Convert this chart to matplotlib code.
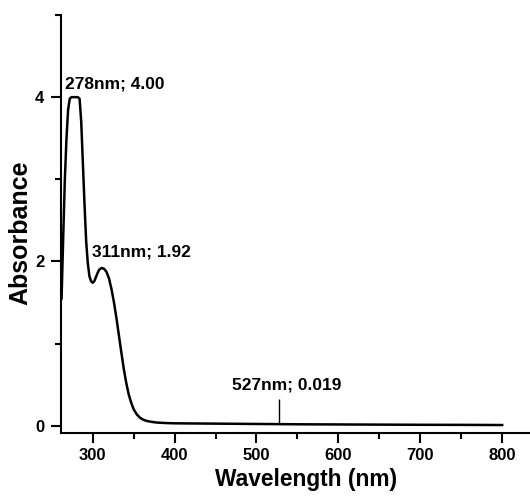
import matplotlib
matplotlib.use("Agg")
import matplotlib.pyplot as plt
from matplotlib.ticker import MultipleLocator

plt.rcParams['font.family'] = ['Liberation Sans', 'DejaVu Sans']
plt.rcParams['font.weight'] = 'bold'

# UV-Vis spectrum
wavelength = [262, 264, 266, 268, 270, 272, 274, 278, 282, 284, 286, 288, 290,
              292, 294, 296, 298, 300, 302, 304, 306, 308, 311, 314, 317, 320,
              323, 326, 329, 332, 335, 338, 341, 344, 347, 350, 354, 358, 362,
              366, 370, 375, 380, 390, 400, 450, 500, 527, 550, 600, 650, 700,
              750, 800]
absorbance = [1.55, 2.3, 3.0, 3.5, 3.85, 3.98, 4.0, 4.0, 4.0, 3.98, 3.7, 3.2,
              2.7, 2.25, 1.98, 1.82, 1.76, 1.74, 1.76, 1.81, 1.86, 1.9, 1.92,
              1.91, 1.87, 1.79, 1.66, 1.50, 1.31, 1.10, 0.89, 0.69, 0.52, 0.38,
              0.28, 0.20, 0.135, 0.095, 0.072, 0.058, 0.05, 0.042, 0.037, 0.032,
              0.029, 0.025, 0.021, 0.019, 0.017, 0.015, 0.013, 0.011, 0.01,
              0.008]

# peak labels: (text, x, y of text baseline)
peak_labels = [("278nm; 4.00", 266, 4.11),
               ("311nm; 1.92", 299.5, 2.06),
               ("527nm; 0.019", 470.5, 0.435)]
marker_x = 527
marker_y = (0.019, 0.32)

fig = plt.figure(figsize=(5.3, 5.01), dpi=100)
ax = fig.add_axes([61 / 530, 1 - 433 / 501, 469 / 530, 418 / 501])

ax.plot(wavelength, absorbance, color='black', lw=1.8, solid_joinstyle='round')
ax.vlines(marker_x, marker_y[0], marker_y[1], color='black', lw=1.0)

for txt, x, y in peak_labels:
    ax.text(x, y, txt, fontsize=12.5, fontweight='bold', ha='left', va='baseline')

ax.set_xlim(261.3, 834)
ax.set_ylim(-0.089, 5.0)

ax.spines['top'].set_visible(False)
ax.spines['right'].set_visible(False)
for s in ('left', 'bottom'):
    ax.spines[s].set_linewidth(1.5)

ax.xaxis.set_major_locator(MultipleLocator(100))
ax.xaxis.set_minor_locator(MultipleLocator(50))
ax.yaxis.set_major_locator(MultipleLocator(2))
ax.yaxis.set_minor_locator(MultipleLocator(1))
ax.set_xticks([300, 400, 500, 600, 700, 800])
ax.tick_params(which='major', direction='out', length=7, width=1.5,
               labelsize=12, pad=4)
ax.tick_params(which='minor', direction='out', length=4.5, width=1.5)
ax.tick_params(axis='y', which='major', pad=5)
for lab in ax.get_xticklabels() + ax.get_yticklabels():
    lab.set_fontweight('bold')

ax.set_xlabel('Wavelength (nm)', fontsize=16.4, fontweight='bold')
ax.set_ylabel('Absorbance', fontsize=18, fontweight='bold')
ax.xaxis.set_label_coords(0.522, -0.083)
ax.yaxis.set_label_coords(-0.06, 0.48)

fig.savefig('out.png', dpi=100)
